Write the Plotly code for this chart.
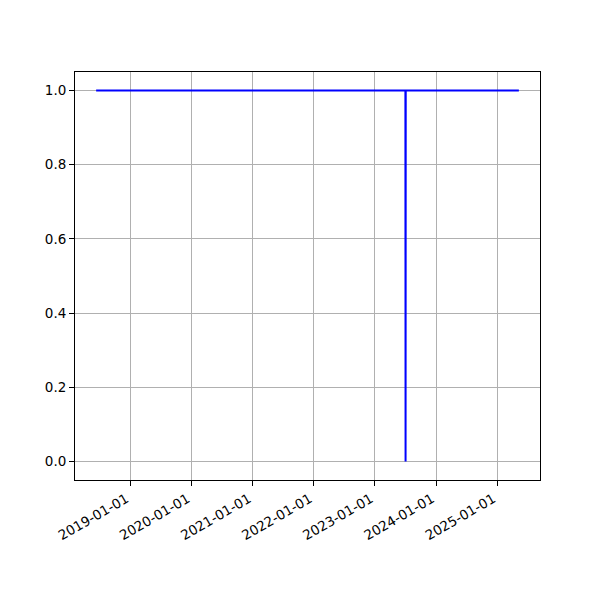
import pandas as pd
import plotly.graph_objects as go

dates = ["2018-06-10", "2023-07-02", "2023-07-03", "2023-07-04", "2025-05-10"]
values = [1, 1, 0, 1, 1]
x_ticks = ["2019-01-01", "2020-01-01", "2021-01-01", "2022-01-01",
           "2023-01-01", "2024-01-01", "2025-01-01"]
y_ticks = [0.0, 0.2, 0.4, 0.6, 0.8, 1.0]

d = pd.to_datetime(dates)
span = d.max() - d.min()
xr = [(d.min() - span * 0.05).strftime("%Y-%m-%d %H:%M"),
      (d.max() + span * 0.05).strftime("%Y-%m-%d %H:%M")]
yspan = max(values) - min(values)
yr = [min(values) - 0.05 * yspan, max(values) + 0.05 * yspan]

fig = go.Figure()
fig.add_trace(go.Scatter(x=dates, y=values, mode="lines",
                         line=dict(color="#0000ff", width=2), showlegend=False))

font = dict(family="DejaVu Sans", size=13.5, color="black")
axis_common = dict(showline=True, linecolor="black", linewidth=1, mirror=True,
                   ticks="outside", ticklen=5, tickcolor="black", tickwidth=1,
                   showgrid=True, gridcolor="#b0b0b0", gridwidth=1,
                   zeroline=False, tickfont=font)
fig.update_layout(
    width=600, height=600,
    margin=dict(l=67, r=68, t=64, b=128),
    paper_bgcolor="white", plot_bgcolor="white",
    xaxis=dict(type="date", range=xr, tickvals=x_ticks, ticktext=x_ticks,
               tickangle=-30, ticklabelshift=-4, **axis_common),
    yaxis=dict(range=yr, tickvals=y_ticks,
               ticktext=[f"{v:.1f}" for v in y_ticks], **axis_common),
)
fig.write_html("out.html")
